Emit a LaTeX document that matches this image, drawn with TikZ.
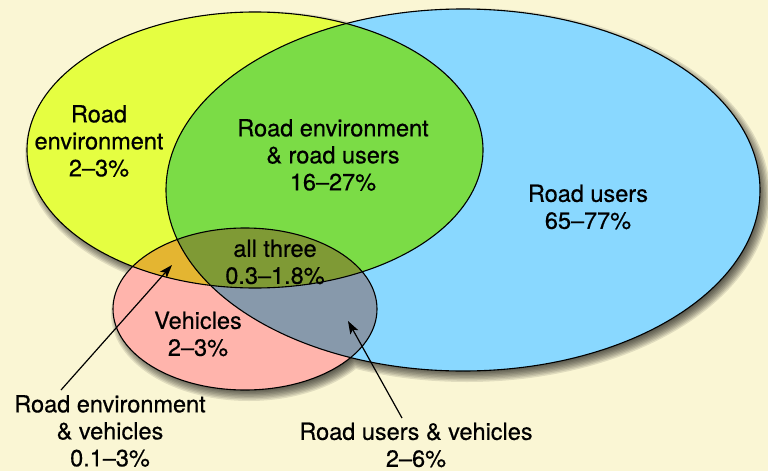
\documentclass[tikz,border=0pt]{standalone}
\usepackage{fontspec}
\newfontfamily\lblfont{TeX Gyre Heros}[FakeBold=0.5]
\usetikzlibrary{arrows.meta}
\definecolor{bg}{HTML}{FAF6D4}
\definecolor{cY}{HTML}{E5FE41}
\definecolor{cB}{HTML}{89D8FF}
\definecolor{cP}{HTML}{FFB4AC}
\definecolor{cG}{HTML}{7BDC46}
\definecolor{cO}{HTML}{E4B531}
\definecolor{cOl}{HTML}{7F9A35}
\definecolor{cGB}{HTML}{8799AB}
\newcommand\ellY{(255,150) ellipse [x radius=228pt, y radius=138pt]}
\newcommand\ellB{(463,190) ellipse [x radius=297pt, y radius=181pt]}
\newcommand\ellP{(245,309) ellipse [x radius=132pt, y radius=81pt]}
\tikzset{
  lbl/.style={font=\lblfont\fontsize{23.5}{27}\selectfont, align=center, inner sep=0pt, text=black},
  outline/.style={draw=black, line width=1.1pt},
  pointer/.style={line width=1.2pt, -{Stealth[length=13pt,width=9pt,inset=3pt]}}
}
\begin{document}
\begin{tikzpicture}[x=1pt,y=-1pt]
\fill[bg] (0,0) rectangle (768,471);
\useasboundingbox (0,0) rectangle (768,471);
% blurred drop shadow
\foreach \i in {0,...,9}{
  \pgfmathsetmacro\d{6-1.4*\i}
  \fill[black,opacity=0.1]
    (259,155) ellipse [x radius={228pt+\d pt}, y radius={138pt+\d pt}]
    (467,195) ellipse [x radius={297pt+\d pt}, y radius={181pt+\d pt}]
    (249,314) ellipse [x radius={132pt+\d pt}, y radius={81pt+\d pt}];
}
% fills
\fill[cY] \ellY;
\fill[cB] \ellB;
\fill[cP] \ellP;
\begin{scope}\clip \ellY; \fill[cG] \ellB; \end{scope}
\begin{scope}\clip \ellY; \fill[cO] \ellP; \end{scope}
\begin{scope}\clip \ellB; \fill[cGB] \ellP; \end{scope}
\begin{scope}\clip \ellY; \clip \ellB; \fill[cOl] \ellP; \end{scope}
% outlines
\draw[outline] \ellY;
\draw[outline] \ellB;
\draw[outline] \ellP;
% labels
\node[lbl] (re) at (99,141) {Road\\environment\\2–3\%};
\node[lbl] (reru) at (333,155) {Road environment\\\& road users\\16–27\%};
\node[lbl] (ru) at (588,207) {Road users\\65–77\%};
\node[lbl] (all) at (275,262) {all three\\0.3–1.8\%};
\node[lbl] (veh) at (198,334) {Vehicles\\2–3\%};
\node[lbl] (rev) at (110,431) {Road environment\\\& vehicles\\0.1–3\%};
\node[lbl] (ruv) at (416,445) {Road users \& vehicles\\2–6\%};
% pointers
\coordinate (a1s) at (61,390);
\coordinate (a1e) at (172,265);
\coordinate (a2s) at (402,418);
\coordinate (a2e) at (348,321);
\draw[pointer] (a1s) -- (a1e);
\draw[pointer] (a2s) -- (a2e);
\end{tikzpicture}
\end{document}
